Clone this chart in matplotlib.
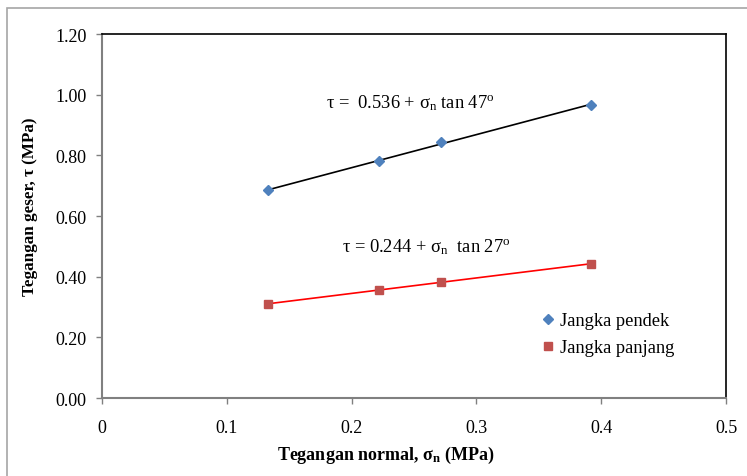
import numpy as np
import matplotlib
matplotlib.use('Agg')
import matplotlib.pyplot as plt
from matplotlib.patches import Rectangle

plt.rcParams['font.family'] = ['Liberation Serif', 'DejaVu Serif']
plt.rcParams['mathtext.fontset'] = 'custom'
plt.rcParams['mathtext.rm'] = 'Liberation Serif'
plt.rcParams['mathtext.it'] = 'Liberation Serif:italic'
plt.rcParams['mathtext.bf'] = 'Liberation Serif:bold'

# normal stress (MPa)
sigma_n = [0.133, 0.222, 0.272, 0.392]
# shear stress (MPa)
tau_pendek = [0.686, 0.780, 0.843, 0.967]
tau_panjang = [0.310, 0.356, 0.383, 0.442]

fig = plt.figure(figsize=(7.47, 4.77), dpi=100)
ax = fig.add_axes([0.1365, 0.1635, 0.8354, 0.7631])

# chart area border (only top and left visible)
fig.patches.append(Rectangle((7 / 747, -0.2), 1.2, 1.2 - 9 / 477 + 0.001,
                             transform=fig.transFigure, fill=False,
                             edgecolor='#a6a6a6', linewidth=1.2, clip_on=False))

x = np.array(sigma_n)
xs = np.array([x.min(), x.max()])
for y, col in [(tau_pendek, 'black'), (tau_panjang, 'red')]:
    k, b = np.polyfit(x, y, 1)
    ax.plot(xs, k * xs + b, color=col, linewidth=1.2, zorder=2)

ax.plot(sigma_n, tau_pendek, linestyle='none', marker='D', markersize=5.5,
        color='#4F81BD', label='Jangka pendek', zorder=3)
ax.plot(sigma_n, tau_panjang, linestyle='none', marker='s', markersize=6,
        color='#C0504D', label='Jangka panjang', zorder=3)

ax.text(0.247, 0.976, r'τ =  0.536 + σ$_\mathrm{n}$ tan 47$^\mathrm{o}$',
        ha='center', va='center', fontsize=13.3)
ax.text(0.26, 0.501, r'τ = 0.244 + σ$_\mathrm{n}$  tan 27$^\mathrm{o}$',
        ha='center', va='center', fontsize=13.3)

ax.set_xlim(0, 0.5)
ax.set_ylim(0, 1.2)
ax.set_xticks([0, 0.1, 0.2, 0.3, 0.4, 0.5])
ax.set_xticklabels(['0', '0.1', '0.2', '0.3', '0.4', '0.5'])
ax.set_yticks(np.arange(0, 1.21, 0.2))
ax.set_yticklabels(['%.2f' % v for v in np.arange(0, 1.21, 0.2)])
ax.tick_params(axis='both', direction='out', length=4, width=1,
               color='#808080', labelsize=13)
ax.tick_params(axis='y', pad=7)
ax.tick_params(axis='x', pad=11)

for s in ['top', 'right']:
    ax.spines[s].set_color('black')
    ax.spines[s].set_linewidth(1.2)
for s in ['left', 'bottom']:
    ax.spines[s].set_color('#808080')
    ax.spines[s].set_linewidth(1.5)

ax.set_xlabel(r'Tegangan normal, σ$_\mathbf{n}$ (MPa)', fontsize=13,
              fontweight='bold')
ax.set_ylabel('Tegangan geser, τ (MPa)', fontsize=12.3, fontweight='bold')
ax.xaxis.set_label_coords(0.455, -0.154)
ax.yaxis.set_label_coords(-0.115, 0.527)
ax.xaxis.label.set_va('center')
ax.yaxis.label.set_va('center')

ax.legend(loc='center left', bbox_to_anchor=(0.68, 0.175), frameon=False,
          fontsize=13.3, handlelength=0.6, handletextpad=0.3, labelspacing=0.55)

fig.savefig('out.png', dpi=100)
